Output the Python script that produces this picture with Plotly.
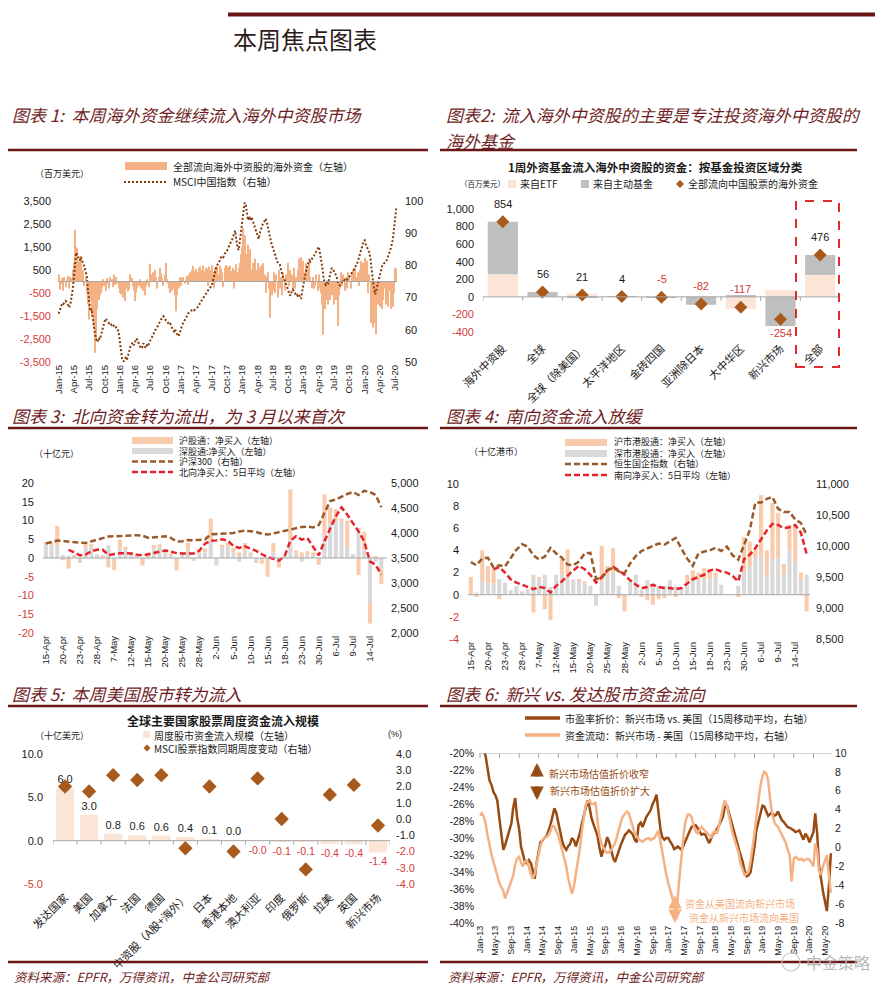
import pandas as pd
import plotly.graph_objects as go

W, H = 875, 1000
NUM = "'Liberation Sans', Arial, 'Noto Sans CJK SC', sans-serif"
CJK = "'Noto Sans CJK SC', 'Liberation Sans', sans-serif"
BLACK = "#1a1a1a"
RED = "#d63b3b"
MAROON = "#6e1c24"
RULE = "#6b1616"
AXISC = "#a6a6a6"

# ---------------- Panel 1: weekly flows into offshore China equities ----------------
p1_flows = (
    [300, -350, -100, 150, -400, 200, -250, 100, 250, -300, 200, 150, 500]
    + [800, 2250, 1500, 1460, 880, 600, 1100, 300, 500, -200, 200, -500, -1000]
    + [-1650, -800, -1500, -1100, -2000, -3100, -2500, -1200, -800, -600, -500, -300, 100]
    + [-200, -400, 150, -100, -300, 200, 100, -250, 300, -150, 200, -100, -300]
    + [-500, -560, -400, -700, -850, -300, -200, -450, -350, 300, 150, -200, -400]
    + [-850, -500, -300, -200, 100, -300, -150, -400, -600, -200, 100, -100, -250]
    + [770, 300, 400, 300, 520, 200, -300, 200, 600, 350, 150, -200, 300]
    + [800, 100, -100, -300, -500, -400, -200, -300, -600, -1290, -600, -300, 200]
    + [-200, 150, 200, -100, 100, 250, -150, 300, 400, 500, 670, 300, 450]
    + [550, 400, 600, 650, 300, 500, 700, 450, 600, 550, -200, 650, 500]
    + [700, 400, -300, 600, 500, 650, 300, 700, 550, 400, -250, 600, 720]
    + [500, 650, 300, 700, 450, 600, -300, 500, 750, 400, 600, 800, 1200]
    + [1500, 2330, 2000, 800, 1200, 1600, 1030, 1400, 500, 800, 700, 1000, 500]
    + [800, 600, 300, 700, 400, 800, 300, -500, 200, 400, -300, -1580, -600]
    + [-400, 400, -500, 300, -700, 500, -300, 200, -600, 400, -400, 300, 200]
    + [810, -200, 500, 300, -400, 600, -300, 200, 500, 1000, 800, 1050, 600]
    + [900, 400, 800, 600, 300, 800, 200, -300, 200, -300, -200, 300, -400]
    + [300, -300, -500, -1000, -2300, -1200, -800, -600, -1000, -400, -800, -600, -300]
    + [-1000, -400, -800, -1940, -600, -300, 400, -200, 300, -400, 200, -300, 400]
    + [200, -300, 400, 500, 300, 600, 200, 400, -200, 500, 880, 300, 800]
    + [1030, 600, 900, -500, 300, -1800, -1500, -2000, -1200, -1800, -2300, -1000, -800]
    + [-1100, -600, -1200, -800, -300, -1000, -600, -1100, -400, -1200, -800, -1100, -500]
    + [600, 550]
)
p1_msci = (
    [65.0, 66.2, 67.5, 68.2, 68.0, 68.6, 69.0, 68.5, 67.6, 66.9, 67.8, 70.0, 72.5]
    + [76.5, 80.8, 84.0, 83.2, 82.0, 81.5, 82.6, 81.0, 80.4, 79.5, 78.2, 76.5, 72.0]
    + [67.5, 65.8, 66.5, 63.5, 61.0, 58.5, 57.0, 56.2, 57.5, 57.0, 58.2, 60.0, 61.2]
    + [62.5, 63.5, 63.0, 62.8, 62.0, 62.2, 61.5, 61.8, 61.3, 60.5, 60.8, 60.0, 59.5]
    + [56.5, 53.5, 51.0, 50.2, 50.5, 51.5, 50.8, 52.0, 53.5, 54.8, 55.5, 56.0, 55.2]
    + [56.5, 57.3, 56.8, 55.5, 55.0, 54.2, 54.6, 55.8, 55.0, 54.4, 55.2, 54.8, 56.0]
    + [56.8, 57.5, 58.4, 59.0, 59.8, 60.5, 61.0, 61.8, 62.5, 63.2, 63.5, 64.2, 63.8]
    + [63.0, 62.8, 62.0, 61.5, 61.8, 60.8, 60.0, 59.5, 60.2, 59.0, 58.5, 58.0, 59.0]
    + [60.5, 61.5, 62.2, 63.0, 63.6, 64.5, 65.0, 65.5, 65.8, 66.0, 66.3, 66.0, 66.5]
    + [66.8, 67.0, 67.3, 68.2, 68.8, 69.5, 70.0, 70.6, 71.0, 71.8, 72.2, 72.8, 73.2]
    + [73.5, 75.0, 76.8, 78.2, 79.5, 80.2, 80.8, 81.5, 82.5, 83.0, 82.6, 83.5, 84.2]
    + [84.5, 85.5, 86.5, 87.0, 87.5, 88.5, 89.8, 90.8, 88.0, 85.5, 84.8, 87.0, 90.5]
    + [93.5, 96.5, 99.5, 98.8, 95.5, 94.0, 95.2, 94.0, 95.0, 93.8, 92.5, 91.0, 89.8]
    + [89.0, 88.2, 90.0, 91.8, 92.5, 93.0, 93.8, 94.5, 93.2, 91.5, 89.0, 88.3, 86.5]
    + [85.5, 84.5, 83.0, 81.8, 81.0, 80.8, 80.2, 78.5, 77.2, 76.0, 75.5, 74.5, 73.8]
    + [72.5, 71.0, 70.6, 71.8, 72.5, 72.0, 71.2, 71.5, 70.6, 71.0, 70.2, 69.6, 72.0]
    + [74.5, 76.8, 78.0, 79.5, 80.5, 81.6, 81.2, 82.0, 82.5, 83.0, 83.8, 84.5, 85.5]
    + [85.8, 84.0, 82.0, 79.5, 76.5, 74.5, 74.0, 74.8, 74.5, 76.5, 78.2, 79.2, 78.8]
    + [78.0, 77.5, 76.8, 75.2, 74.0, 73.8, 74.5, 75.0, 74.8, 75.5, 75.2, 75.8, 76.0]
    + [76.5, 77.0, 77.6, 78.2, 78.8, 79.6, 80.0, 81.0, 82.2, 83.0, 84.5, 86.0, 87.5]
    + [87.8, 86.5, 85.8, 85.0, 84.0, 82.0, 79.5, 75.5, 72.5, 71.0, 72.5, 74.0, 75.5]
    + [77.5, 79.2, 80.0, 80.5, 80.8, 81.0, 81.8, 82.8, 83.5, 85.0, 86.5, 88.0, 91.5]
    + [95.5, 98.0]
)
p1_tick_labels = ["Jan-15", "Apr-15", "Jul-15", "Oct-15", "Jan-16", "Apr-16", "Jul-16", "Oct-16",
                  "Jan-17", "Apr-17", "Jul-17", "Oct-17", "Jan-18", "Apr-18", "Jul-18", "Oct-18",
                  "Jan-19", "Apr-19", "Jul-19", "Oct-19", "Jan-20", "Apr-20", "Jul-20"]
p1_tick_step = 13
p1_left_ticks = [-3500, -2500, -1500, -500, 500, 1500, 2500, 3500]
p1_right_ticks = [50, 60, 70, 80, 90, 100]

# ---------------- Panel 2: one-week flows by fund region ----------------
p2_cats = ["海外中资股", "全球", "全球（除美国）", "太平洋地区", "金砖四国", "亚洲除日本", "大中华区", "新兴市场", "全部"]
p2_etf = [258, 3, 35, 3, -2, 8, -137, 80, 250]
p2_active = [596, 53, -14, 1, -3, -90, 20, -334, 226]
p2_total = [854, 56, 21, 4, -5, -82, -117, -254, 476]
p2_ticks = [-400, -200, 0, 200, 400, 600, 800, 1000]

# ---------------- Panel 3 / 4: daily Stock Connect flows ----------------
days = ["15-Apr", "16-Apr", "17-Apr", "20-Apr", "21-Apr", "22-Apr", "23-Apr", "24-Apr", "27-Apr", "28-Apr",
        "29-Apr", "6-May", "7-May", "8-May", "11-May", "12-May", "13-May", "14-May", "15-May", "18-May",
        "19-May", "20-May", "21-May", "22-May", "25-May", "26-May", "27-May", "28-May", "29-May", "1-Jun",
        "2-Jun", "3-Jun", "4-Jun", "5-Jun", "8-Jun", "9-Jun", "10-Jun", "11-Jun", "12-Jun", "15-Jun",
        "16-Jun", "17-Jun", "18-Jun", "19-Jun", "22-Jun", "23-Jun", "24-Jun", "29-Jun", "30-Jun", "2-Jul",
        "3-Jul", "6-Jul", "7-Jul", "8-Jul", "9-Jul", "10-Jul", "13-Jul", "14-Jul", "15-Jul", "16-Jul"]
day_ticks = ["15-Apr", "20-Apr", "23-Apr", "28-Apr", "7-May", "12-May", "15-May", "20-May", "25-May", "28-May",
             "2-Jun", "5-Jun", "10-Jun", "15-Jun", "18-Jun", "23-Jun", "30-Jun", "6-Jul", "9-Jul", "14-Jul"]

p3_sz = [3.6, 3.4, 3.3, 0.8, 0.3, 0.3, -1.0, 2.8, 3.0, 1.0,
         0.3, 3.4, -0.8, 2.5, 2.4, 1.0, 0.5, -0.3, 0.5, 2.5,
         3.0, 1.2, 0.6, -0.3, 0.8, 2.0, -0.8, 1.2, 1.5, 4.5,
         -2.0, 3.0, 3.0, 1.5, -1.0, 2.0, 1.0, -0.8, -0.5, -0.5,
         1.5, -0.8, 0.3, 5.0, 1.2, -1.0, 1.0, 0.8, -0.4, 6.0,
         9.0, 10.0, 10.0, 3.0, 1.0, 8.0, 2.0, -12.0, -1.0, -3.0]
p3_sh = [0.6, 0.8, 5.3, -0.6, -2.8, 0.4, -0.3, 0.8, 0.7, 0.0,
         0.3, -2.5, -2.4, 2.4, 0.4, 0.5, 0.5, -1.7, 0.3, 1.0,
         0.7, 0.6, 0.6, -3.0, 0.7, 2.0, 0.0, 0.8, 1.0, 6.0,
         0.0, 0.5, 1.0, 1.2, 1.5, 2.0, 0.5, -0.5, -1.0, -4.5,
         2.5, -1.7, 0.2, 13.3, 0.8, 1.5, 0.8, 0.7, -1.4, 11.0,
         4.5, 3.0, 0.5, 7.0, 0.0, -4.5, 5.0, -5.5, 0.5, -4.0]
p3_ma5 = [None, None, None, None, 2.2, 1.4, 0.7, 0.9, 1.8, 2.2,
          2.2, 0.8, 1.1, 1.3, 1.3, 1.2, 0.9, 0.7, 1.0, 1.4,
          1.6, 2.0, 1.7, 1.3, 1.2, 1.2, 1.2, 2.0, 3.8, 4.6,
          4.7, 5.0, 4.6, 3.2, 2.7, 3.1, 2.5, 1.9, 1.0, 0.2,
          -0.2, -0.7, 0.5, 4.6, 5.8, 4.9, 5.3, 3.0, 0.7, 4.5,
          7.6, 11.1, 13.5, 11.6, 9.3, 7.1, 4.4, -0.9, -1.8, -4.4]
p3_hs300 = [3790, 3820, 3850, 3840, 3825, 3815, 3805, 3800, 3830, 3860,
            3890, 3930, 3935, 3945, 3955, 3950, 3955, 3945, 3905, 3910,
            3930, 3935, 3900, 3830, 3835, 3860, 3855, 3865, 3870, 3975,
            3980, 3978, 3985, 4000, 4030, 4045, 4035, 4020, 3985, 3970,
            3990, 4015, 4040, 4080, 4090, 4120, 4128, 4112, 4160, 4400,
            4640, 4670, 4730, 4780, 4820, 4760, 4845, 4820, 4760, 4515]
p3_left_ticks = [-20, -15, -10, -5, 0, 5, 10, 15, 20]
p3_right_ticks = [2000, 2500, 3000, 3500, 4000, 4500, 5000]

p4_sz = [0.0, 0.2, 1.2, 1.0, 1.0, 1.4, 1.1, 0.4, 0.8, 0.3,
         0.5, 1.8, 1.4, 1.8, 0.7, 1.8, 1.8, 1.5, 1.4, 1.3,
         1.0, 0.8, -1.0, 1.2, 1.8, 2.0, 0.8, 0.0, 1.2, 1.8,
         0.5, 1.3, 1.0, 0.8, 0.8, 1.3, 0.8, 0.7, 1.0, 1.2,
         1.3, 1.5, 1.4, 1.6, 0.9, 0.0, 0.0, 0.8, 2.0, 2.5,
         3.3, 3.5, 1.7, 3.2, 3.3, 1.8, 4.0, 3.0, 1.3, 1.8]
p4_hu = [1.6, -0.2, 2.8, 1.6, 1.3, -0.4, 0.0, 0.0, 0.0, 0.0,
         0.0, -1.6, 0.2, -1.3, -2.3, 0.0, 1.4, 2.6, 0.0, 0.1,
         0.2, 0.0, 0.0, 3.2, 0.8, 2.2, -0.3, -1.5, 0.0, 0.0,
         -0.2, -0.5, -0.9, -0.4, -0.3, 0.0, -0.2, 0.0, 0.8, 1.0,
         0.7, 0.9, 0.9, 0.4, 0.0, 0.0, 0.0, -0.2, 3.2, 2.3,
         0.7, 5.5, 2.3, 5.1, 4.1, 1.0, 2.3, 3.3, 0.7, -1.5]
p4_ma5 = [None, None, None, None, 2.3, 2.5, 2.0, 1.4, 1.1, 0.9,
          0.7, 0.5, 0.7, 0.6, 0.2, 0.8, 1.2, 1.7, 2.2, 2.6,
          2.3, 1.8, 1.1, 1.6, 2.2, 2.5, 2.2, 1.8, 1.3, 0.9,
          0.6, 0.7, 0.9, 0.7, 0.6, 0.6, 0.5, 0.6, 1.0, 1.4,
          1.6, 1.8, 2.2, 2.3, 2.1, 2.0, 1.7, 1.2, 3.2, 3.6,
          4.2, 5.0, 5.8, 6.4, 6.3, 6.0, 6.1, 6.3, 5.6, 3.7]
p4_hscei = [9740, 9690, 9800, 9810, 9650, 9690, 9670, 9800, 9940, 10030,
            9990, 9850, 9780, 9830, 9970, 9880, 9810, 9700, 9690, 9750,
            9880, 9890, 9470, 9480, 9610, 9650, 9590, 9560, 9720, 9840,
            9920, 9960, 9995, 10040, 10020, 10080, 10130, 9960, 9800, 9680,
            9880, 9910, 9930, 9970, 9920, 9990, 9850, 9780, 10000, 10250,
            10700, 10700, 10760, 10790, 10600, 10550, 10550, 10430, 10370, 10180]
p4_left_ticks = [-4, -2, 0, 2, 4, 6, 8, 10]
p4_right_ticks = [8500, 9000, 9500, 10000, 10500, 11000]

# ---------------- Panel 5: weekly flows by country ----------------
p5_cats = ["发达国家", "美国", "加拿大", "法国", "德国", "中资股（A股+海外）", "日本", "香港本地",
           "澳大利亚", "印度", "俄罗斯", "拉美", "英国", "新兴市场"]
p5_flows = [6.02, 2.98, 0.82, 0.62, 0.58, 0.42, 0.12, 0.03, -0.02, -0.12, -0.08, -0.38, -0.42, -1.36]
p5_msci = [2.0, 1.7, 2.7, 2.4, 2.7, -1.8, 2.0, -2.0, 2.5, 0.0, -3.1, 1.5, 2.1, -0.4]
p5_left_ticks = [-5, 0, 5, 10]
p5_right_ticks = [-4, -3, -2, -1, 0, 1, 2, 3, 4]

# ---------------- Panel 6: EM vs US (semi-monthly readings) ----------------
p6_start = "2013-01-01"
p6_pe_disc = (
    [-18.5, -19.0, -19.6, -20.5, -21.8, -23.2, -23.8, -24.6, -25.0, -25.6, -27.8, -29.8,
     -31.4, -30.8, -29.8, -29.0, -28.3, -26.5, -25.3, -27.5, -29.0, -31.0, -32.2, -32.8]
    + [-33.0, -32.6, -33.0, -34.0, -34.8, -33.0, -31.5, -30.5, -30.3, -30.0, -29.8, -29.2,
       -28.5, -27.6, -26.5, -27.0, -28.2, -29.4, -30.4, -31.0, -31.4, -31.0, -30.7, -30.0]
    + [-30.3, -31.0, -30.2, -29.4, -28.4, -27.5, -26.5, -25.6, -26.4, -27.6, -28.4, -29.0,
       -29.7, -31.0, -32.2, -31.4, -30.8, -29.9, -30.5, -31.4, -32.4, -32.8, -32.0, -31.4]
    + [-30.7, -30.2, -29.6, -29.4, -29.1, -29.3, -29.6, -30.2, -30.5, -28.5, -28.2, -28.7,
       -28.0, -27.5, -27.1, -26.8, -26.0, -25.6, -24.9, -27.0, -29.0, -29.9, -30.2, -30.0]
    + [-30.0, -30.4, -30.8, -31.3, -31.2, -31.0, -31.2, -31.4, -30.8, -30.2, -29.7, -29.2,
       -28.7, -28.6, -28.5, -28.8, -29.3, -29.6, -29.5, -29.6, -30.2, -30.6, -30.0, -29.5]
    + [-29.3, -28.9, -28.5, -28.0, -27.5, -26.3, -26.2, -27.0, -27.8, -28.7, -29.5, -30.3,
       -31.2, -32.0, -32.8, -33.8, -34.5, -34.4, -34.0, -32.8, -31.0, -29.1, -28.0, -27.1]
    + [-26.2, -26.3, -26.9, -27.4, -27.2, -27.0, -27.4, -27.3, -26.9, -27.4, -27.9, -28.1,
       -28.4, -28.7, -28.8, -28.9, -29.1, -29.3, -29.2, -29.1, -29.7, -30.2, -29.5, -29.8]
    + [-30.5, -30.0, -29.3, -27.1, -29.5, -33.2, -35.0, -36.3, -37.5, -38.6, -35.5, -31.8]
)
p6_flow_diff = (
    [3.4, 3.6, 3.2, 2.4, 1.2, 0.1, -0.8, -1.5, -2.4, -3.0, -3.8, -4.2,
     -4.6, -5.4, -4.8, -4.3, -3.6, -3.0, -1.8, -1.2, -1.0, -1.6, -2.0, -1.5]
    + [-1.4, -2.2, -2.9, -3.3, -2.8, -1.8, -0.6, 0.2, 0.8, 1.0, 1.1, 1.3,
       1.7, 2.3, 2.2, 1.8, 1.2, 0.5, -0.3, -1.1, -2.0, -3.2, -4.3, -4.9]
    + [-4.0, -2.9, -1.5, -0.1, 1.6, 3.0, 4.5, 4.8, 5.0, 4.6, 4.6, 4.8,
       2.6, 1.3, 0.4, 0.0, -0.4, -0.6, -0.5, -0.3, 0.1, 0.5, 1.2, 2.0]
    + [2.8, 3.3, 3.6, 3.8, 3.6, 3.0, 2.2, 1.5, 1.2, 0.9, 0.7, 0.6,
       0.8, 0.9, 1.0, 0.8, 0.9, 1.0, 1.4, 1.8, 0.6, -0.6, -1.8, -2.8]
    + [-3.8, -4.5, -5.2, -6.0, -7.6, -5.0, -2.6, -0.8, 1.6, 2.8, 3.5, 3.5,
       3.2, 2.4, 1.7, 1.5, 1.9, 2.2, 1.9, 1.7, 1.5, 1.3, 1.1, 1.6]
    + [1.7, 1.5, 2.4, 3.3, 4.3, 5.0, 4.4, 3.6, 2.4, 1.5, 0.8, 0.2,
       -0.6, -1.7, -2.4, -2.9, -2.8, -2.6, -1.5, -0.3, 1.5, 3.2, 4.9, 6.4]
    + [7.5, 8.0, 7.8, 7.1, 5.2, 3.8, 2.8, 2.4, 2.2, 1.8, 1.4, 1.1,
       0.5, -0.2, -0.8, -3.6, -1.2, -1.0, -1.2, -1.3, -1.2, -1.4, -1.3, -1.2]
    + [-1.3, -1.6, -2.0, 0.4, -0.3, -2.5, -2.9, -2.0, -1.2, -0.8, -3.0, -4.8]
)
p6_left_ticks = [-40, -38, -36, -34, -32, -30, -28, -26, -24, -22, -20]
p6_right_ticks = [-8, -6, -4, -2, 0, 2, 4, 6, 8, 10]

# ---------------- colours ----------------
P1_BAR = "#f4b183"
BROWN = "#843c0c"
ETF_C = "#fbe5d6"
ACT_C = "#bfbfbf"
DIAM = "#a85a1c"
PEACH = "#f8cbad"
GREY = "#d9d9d9"
IDX_C = "#9a5a2a"
MA_C = "#e8222a"
DARK6 = "#974a12"
LIGHT6 = "#f4b183"


def X(v):
    return v / W


def Y(v):
    return 1 - v / H


def xdom(a, b):
    return [X(a), X(b)]


def ydom(top, bot):
    return [Y(bot), Y(top)]


def ttext(vals, fmt, is_red):
    return [f'<span style="color:{RED}">{fmt(v)}</span>' if is_red(v) else fmt(v) for v in vals]


def axis(**kw):
    d = dict(showgrid=False, zeroline=False, showline=False, ticks="", fixedrange=True, automargin=False,
             tickfont=dict(family=NUM, size=10.5, color=BLACK))
    d.update(kw)
    return d


fig = go.Figure()

# ---- Panel 1 traces
p1_x = list(range(len(p1_flows)))
fig.add_trace(go.Bar(x=p1_x, y=p1_flows, width=0.85, marker=dict(color=P1_BAR, line=dict(width=0)),
                     xaxis="x", yaxis="y"))
fig.add_trace(go.Scatter(x=p1_x, y=p1_msci, mode="lines", line=dict(color=BROWN, width=2, dash="2px,2px"),
                         xaxis="x", yaxis="y2"))

# ---- Panel 2 traces
p2_x = list(range(len(p2_cats)))
fig.add_trace(go.Bar(x=p2_x, y=p2_etf, width=0.76, marker=dict(color=ETF_C, line=dict(width=0)),
                     xaxis="x2", yaxis="y3"))
fig.add_trace(go.Bar(x=p2_x, y=p2_active, width=0.76, marker=dict(color=ACT_C, line=dict(width=0)),
                     xaxis="x2", yaxis="y3"))
fig.add_trace(go.Scatter(x=p2_x, y=p2_total, mode="markers",
                         marker=dict(symbol="diamond", size=10, color=DIAM), xaxis="x2", yaxis="y3"))

# ---- Panel 3 traces
fig.add_trace(go.Bar(x=days, y=p3_sz, width=0.72, marker=dict(color=GREY, line=dict(width=0)),
                     xaxis="x3", yaxis="y4"))
fig.add_trace(go.Bar(x=days, y=p3_sh, width=0.72, marker=dict(color=PEACH, line=dict(width=0)),
                     xaxis="x3", yaxis="y4"))
fig.add_trace(go.Scatter(x=days, y=p3_hs300, mode="lines", line=dict(color=IDX_C, width=2.5, dash="6px,3px"),
                         xaxis="x3", yaxis="y5"))
fig.add_trace(go.Scatter(x=days, y=p3_ma5, mode="lines", line=dict(color=MA_C, width=2.5, dash="6px,3px"),
                         xaxis="x3", yaxis="y4"))

# ---- Panel 4 traces
fig.add_trace(go.Bar(x=days, y=p4_sz, width=0.72, marker=dict(color=GREY, line=dict(width=0)),
                     xaxis="x4", yaxis="y6"))
fig.add_trace(go.Bar(x=days, y=p4_hu, width=0.72, marker=dict(color=PEACH, line=dict(width=0)),
                     xaxis="x4", yaxis="y6"))
fig.add_trace(go.Scatter(x=days, y=p4_hscei, mode="lines", line=dict(color=IDX_C, width=2.5, dash="6px,3px"),
                         xaxis="x4", yaxis="y7"))
fig.add_trace(go.Scatter(x=days, y=p4_ma5, mode="lines", line=dict(color=MA_C, width=2.5, dash="6px,3px"),
                         xaxis="x4", yaxis="y6"))

# ---- Panel 5 traces
p5_x = list(range(len(p5_cats)))
fig.add_trace(go.Bar(x=p5_x, y=p5_flows, width=0.76, marker=dict(color=ETF_C, line=dict(width=0)),
                     text=[f"{v:.1f}" for v in p5_flows], textposition="outside", cliponaxis=False,
                     textfont=dict(family=NUM, size=11, color=[BLACK if v >= 0 else RED for v in p5_flows]),
                     xaxis="x5", yaxis="y8"))
fig.add_trace(go.Scatter(x=p5_x, y=p5_msci, mode="markers", marker=dict(symbol="diamond", size=11, color=DIAM),
                         xaxis="x5", yaxis="y9"))

# ---- Panel 6 traces
p6_dates = pd.date_range(p6_start, periods=len(p6_pe_disc), freq="SMS")
fig.add_trace(go.Scatter(x=p6_dates, y=p6_flow_diff, mode="lines", line=dict(color=LIGHT6, width=2.5),
                         xaxis="x6", yaxis="y11"))
fig.add_trace(go.Scatter(x=p6_dates, y=p6_pe_disc, mode="lines", line=dict(color=DARK6, width=2.5),
                         xaxis="x6", yaxis="y10"))

fig.update_traces(showlegend=False, hoverinfo="skip")

comma = lambda v: f"{v:,}"
layout = dict(
    # Panel 1
    xaxis=axis(domain=xdom(58, 397), anchor="y", range=[-0.5, len(p1_flows) - 0.5],
               tickmode="array", tickvals=[i * p1_tick_step for i in range(len(p1_tick_labels))],
               ticktext=p1_tick_labels, tickangle=-90, tickfont=dict(family=NUM, size=9.5, color=BLACK)),
    yaxis=axis(domain=ydom(201, 362), anchor="x", range=[-3500, 3500], tickmode="array",
               tickvals=p1_left_ticks, ticktext=ttext(p1_left_ticks, comma, lambda v: v < 0),
               tickfont=dict(family=NUM, size=11, color=BLACK), ticklabelstandoff=6),
    yaxis2=axis(overlaying="y", side="right", anchor="x", range=[50, 100], tickmode="array",
                tickvals=p1_right_ticks, ticktext=[str(v) for v in p1_right_ticks],
                tickfont=dict(family=NUM, size=11, color=BLACK), ticklabelstandoff=7),
    # Panel 2
    xaxis2=axis(domain=xdom(483, 840), anchor="y3", range=[-0.5, len(p2_cats) - 0.5], tickmode="array",
                tickvals=p2_x, ticktext=p2_cats, tickangle=-45, ticklabelstandoff=7,
                tickfont=dict(family=CJK, size=11, color=BLACK)),
    yaxis3=axis(domain=ydom(209, 332), anchor="x2", range=[-400, 1000], tickmode="array",
                tickvals=p2_ticks, ticktext=ttext(p2_ticks, comma, lambda v: v < 0),
                tickfont=dict(family=NUM, size=11, color=BLACK), ticklabelstandoff=8),
    # Panel 3
    xaxis3=axis(domain=xdom(43, 387), anchor="y4", type="category", categoryorder="array", categoryarray=days,
                range=[-0.5, len(days)], tickmode="array", tickvals=day_ticks, ticktext=day_ticks,
                tickangle=-90, tickfont=dict(family=NUM, size=9.5, color=BLACK)),
    yaxis4=axis(domain=ydom(483, 633), anchor="x3", range=[-20, 20], tickmode="array",
                tickvals=p3_left_ticks, ticktext=ttext(p3_left_ticks, str, lambda v: v < 0),
                tickfont=dict(family=NUM, size=11, color=BLACK), ticklabelstandoff=8),
    yaxis5=axis(overlaying="y4", side="right", anchor="x3", range=[2000, 5000], tickmode="array",
                tickvals=p3_right_ticks, ticktext=[comma(v) for v in p3_right_ticks],
                tickfont=dict(family=NUM, size=11, color=BLACK), ticklabelstandoff=3),
    # Panel 4
    xaxis4=axis(domain=xdom(468, 810), anchor="y6", type="category", categoryorder="array", categoryarray=days,
                range=[-0.5, len(days) - 0.4], tickmode="array", tickvals=day_ticks, ticktext=day_ticks,
                tickangle=-90, tickfont=dict(family=NUM, size=9.5, color=BLACK)),
    yaxis6=axis(domain=ydom(484, 639), anchor="x4", range=[-4, 10], tickmode="array",
                tickvals=p4_left_ticks, ticktext=ttext(p4_left_ticks, str, lambda v: v < 0),
                tickfont=dict(family=NUM, size=11, color=BLACK), ticklabelstandoff=8),
    yaxis7=axis(overlaying="y6", side="right", anchor="x4", range=[8500, 11000], tickmode="array",
                tickvals=p4_right_ticks, ticktext=[comma(v) for v in p4_right_ticks],
                tickfont=dict(family=NUM, size=11, color=BLACK), ticklabelstandoff=5),
    # Panel 5
    xaxis5=axis(domain=xdom(53, 390), anchor="y8", range=[-0.5, len(p5_cats) - 0.5], tickmode="array",
                tickvals=p5_x, ticktext=p5_cats, tickangle=-45, ticklabelstandoff=4,
                tickfont=dict(family=CJK, size=11, color=BLACK)),
    yaxis8=axis(domain=ydom(754, 884), anchor="x5", range=[-5, 10], tickmode="array",
                tickvals=p5_left_ticks, ticktext=ttext(p5_left_ticks, lambda v: f"{v:.1f}", lambda v: v < 0),
                tickfont=dict(family=NUM, size=11, color=BLACK), ticklabelstandoff=9),
    yaxis9=axis(overlaying="y8", side="right", anchor="x5", range=[-4, 4], tickmode="array",
                tickvals=p5_right_ticks, ticktext=ttext(p5_right_ticks, lambda v: f"{v:.1f}", lambda v: v <= -2),
                tickfont=dict(family=NUM, size=11, color=BLACK), ticklabelstandoff=5),
    # Panel 6
    xaxis6=axis(domain=xdom(479, 832), anchor="y10", type="date", range=["2012-12-24", "2020-06-24"],
                tickformat="%b-%y", dtick="M4", tick0="2013-01-01", tickangle=-90,
                tickfont=dict(family=NUM, size=9, color=BLACK)),
    yaxis10=axis(domain=ydom(753, 923), anchor="x6", range=[-40, -20], tickmode="array",
                 tickvals=p6_left_ticks, ticktext=[f"{v}%" for v in p6_left_ticks],
                 tickfont=dict(family=NUM, size=10.5, color=BLACK), ticklabelstandoff=4),
    yaxis11=axis(overlaying="y10", side="right", anchor="x6", range=[-8, 10], tickmode="array",
                 tickvals=p6_right_ticks, ticktext=[str(v) for v in p6_right_ticks],
                 tickfont=dict(family=NUM, size=10.5, color=BLACK), ticklabelstandoff=2),
)

shapes = []
ann = []


def hline(x0, x1, y, color, width):
    shapes.append(dict(type="line", xref="paper", yref="paper", x0=X(x0), x1=X(x1), y0=Y(y), y1=Y(y),
                       line=dict(color=color, width=width)))


def seg(x0, y0, x1, y1, color, width, dash="solid"):
    shapes.append(dict(type="line", xref="paper", yref="paper", x0=X(x0), x1=X(x1), y0=Y(y0), y1=Y(y1),
                       line=dict(color=color, width=width, dash=dash)))


def rect(x0, y0, x1, y1, color, line=None, dash="solid", lw=0):
    shapes.append(dict(type="rect", xref="paper", yref="paper", x0=X(x0), x1=X(x1), y0=Y(y1), y1=Y(y0),
                       fillcolor=color, line=dict(color=line or color, width=lw, dash=dash)))


def diamond(cx, cy, r, color):
    path = (f"M {X(cx)},{Y(cy - r)} L {X(cx + r)},{Y(cy)} L {X(cx)},{Y(cy + r)} "
            f"L {X(cx - r)},{Y(cy)} Z")
    shapes.append(dict(type="path", xref="paper", yref="paper", path=path, fillcolor=color,
                       line=dict(width=0)))


def text(x, y, s, size=10, color=BLACK, xanchor="left", family=CJK):
    ann.append(dict(xref="paper", yref="paper", x=X(x), y=Y(y), text=s, showarrow=False,
                    xanchor=xanchor, yanchor="middle", align=xanchor if xanchor != "center" else "center",
                    font=dict(size=size, color=color, family=family)))


def zero_line(xa, ya, yval=0, color=AXISC):
    shapes.append(dict(type="line", xref=f"{xa} domain", yref=ya, x0=0, x1=1, y0=yval, y1=yval,
                       line=dict(color=color, width=1), layer="above"))


def tick_marks(xa, ya, positions, yval=0, length=-4, color=AXISC):
    for p in positions:
        shapes.append(dict(type="line", xref=xa, yref=ya, x0=p, x1=p, ysizemode="pixel", yanchor=yval,
                           y0=0, y1=length, line=dict(color=color, width=1), layer="above"))


# ---- page furniture
hline(228, 875, 14.5, RULE, 4)
text(231, 38, "本周焦点图表", size=24, color="#2b1b1b")
text(10, 115, "<i>图表 1:  本周海外资金继续流入海外中资股市场</i>", size=17, color=MAROON)
text(444, 115, "<i>图表2:  流入海外中资股的主要是专注投资海外中资股的</i>", size=17, color=MAROON)
text(444, 140, "<i>海外基金</i>", size=17, color=MAROON)
text(10, 415, "<i>图表 3:  北向资金转为流出，为 3 月以来首次</i>", size=17, color=MAROON)
text(444, 415, "<i>图表 4:  南向资金流入放缓</i>", size=17, color=MAROON)
text(10, 693, "<i>图表 5:  本周美国股市转为流入</i>", size=17, color=MAROON)
text(444, 693, "<i>图表 6:  新兴 vs. 发达股市资金流向</i>", size=17, color=MAROON)
for y in (150, 428, 706, 962):
    hline(8, 428, y, RULE, 2.5)
    hline(440, 857, y, RULE, 2.5)
text(12, 976, "<i>资料来源：EPFR，万得资讯，中金公司研究部</i>", size=12.5, color=MAROON)
text(446, 976, "<i>资料来源：EPFR，万得资讯，中金公司研究部</i>", size=12.5, color=MAROON)
shapes.append(dict(type="circle", xref="paper", yref="paper", x0=X(782), x1=X(800), y0=Y(971), y1=Y(953),
                   line=dict(color="#c8c8c8", width=1.2)))
text(804, 962, "中金策略", size=16, color="#b8b8b8")

# ---- Panel 1 furniture
text(33, 173, "（百万美元）", size=9)
rect(125, 162, 167, 170, P1_BAR)
text(171, 166, "全部流向海外中资股的海外资金（左轴）", size=10)
seg(124, 182, 166, 182, BROWN, 2, "2px,2px")
text(171, 182, "MSCI中国指数（右轴）", size=10)
zero_line("x", "y")

# ---- Panel 2 furniture
text(655, 167, "<b>1周外资基金流入海外中资股的资金：按基金投资区域分类</b>", size=11.5, xanchor="center")
text(458, 184, "（百万美元）", size=7.5)
rect(508, 180, 516, 188, ETF_C)
text(518, 184, "来自ETF", size=10)
rect(581, 180, 589, 188, ACT_C)
text(591, 184, "来自主动基金", size=10)
diamond(680, 184, 4, DIAM)
text(686, 184, "全部流向中国股票的海外资金", size=10)
zero_line("x2", "y3")
tick_marks("x2", "y3", [i - 0.5 for i in range(len(p2_cats) + 1)])
for i, v in enumerate(p2_total):
    ann.append(dict(xref="x2", yref="y3", x=i, y=v, text=str(v), showarrow=False,
                    yshift=18 if v > -200 else -14, font=dict(family=NUM, size=11, color=BLACK if v >= 0 else RED)))
rect(796, 201, 839, 367, "rgba(0,0,0,0)", line="#e02b2b", dash="dash", lw=2)

# ---- Panel 3 furniture
text(32, 453, "（十亿元）", size=9)
rect(132, 437, 173, 444, PEACH)
text(177, 440.5, "沪股通：净买入（左轴）", size=9)
rect(132, 448, 173, 454, GREY)
text(177, 451, "深股通:净买入（左轴）", size=9)
seg(132, 461.5, 173, 461.5, IDX_C, 2.5, "6px,3px")
text(177, 461.5, "沪深300（右轴）", size=9)
seg(132, 472, 173, 472, MA_C, 2.5, "6px,3px")
text(177, 472, "北向净买入：5日平均（左轴）", size=9)
zero_line("x3", "y4")

# ---- Panel 4 furniture
text(467, 452, "（十亿港币）", size=9)
rect(565, 439, 607, 446, PEACH)
text(612, 442, "沪市港股通：净买入（左轴）", size=9)
rect(565, 450, 607, 457, GREY)
text(612, 453, "深市港股通：净买入（左轴）", size=9)
seg(565, 464, 607, 464, IDX_C, 2.5, "6px,3px")
text(612, 464, "恒生国企指数（右轴）", size=9)
seg(565, 475, 607, 475, MA_C, 2.5, "6px,3px")
text(612, 475, "南向净买入：5日平均（左轴）", size=9)
zero_line("x4", "y6")

# ---- Panel 5 furniture
text(223, 720, "<b>全球主要国家股票周度资金流入规模</b>", size=12, xanchor="center")
text(33, 735, "（十亿美元）", size=9)
text(395, 734, "(%)", size=9, xanchor="center", family=NUM)
rect(143, 731, 150, 738, ETF_C)
text(152, 735, "周度股市资金流入规模（左轴）", size=10)
diamond(147, 748, 3.5, DIAM)
text(152, 748, "MSCI股票指数同期周度变动（右轴）", size=10)
zero_line("x5", "y8")
tick_marks("x5", "y8", [i - 0.5 for i in range(len(p5_cats) + 1)])

# ---- Panel 6 furniture
seg(525, 718, 560, 718, DARK6, 3.5)
text(563, 718, "市盈率折价：新兴市场 vs. 美国（15周移动平均，右轴）", size=10)
seg(525, 735, 560, 735, LIGHT6, 3.5)
text(563, 735, "资金流动：新兴市场 - 美国（15周移动平均，右轴）", size=10)
zero_line("x6", "y10", yval=-20)
tick_marks("x6", "y10", list(pd.date_range(p6_start, "2020-06-01", freq="5MS")), yval=-20, length=-5)


def arrow(x, y_head, dy, color):
    ann.append(dict(xref="paper", yref="paper", x=X(x), y=Y(y_head), ax=0, ay=dy, text="", showarrow=True,
                    arrowhead=2, arrowsize=0.6, arrowwidth=4.5, arrowcolor=color))


arrow(537, 763, 15, DARK6)
arrow(537, 800, -15, DARK6)
text(547, 773, "新兴市场估值折价收窄", size=10, color=DARK6)
text(548, 790, "新兴市场估值折价扩大", size=10, color=DARK6)
arrow(675, 895, 13, LIGHT6)
arrow(675, 923, -13, LIGHT6)
text(683, 903, "资金从美国流向新兴市场", size=10, color=LIGHT6)
text(687, 917, "资金从新兴市场流向美国", size=10, color=LIGHT6)

fig.update_layout(
    **layout,
    width=W, height=H, margin=dict(l=0, r=0, t=0, b=0, pad=0, autoexpand=False),
    paper_bgcolor="white", plot_bgcolor="white",
    barmode="relative", showlegend=False, hovermode=False,
    font=dict(family=NUM, size=10, color=BLACK),
    shapes=shapes, annotations=ann,
)

fig.write_html("out.html", config={"displayModeBar": False},
               post_script="document.body.style.margin='0';")
